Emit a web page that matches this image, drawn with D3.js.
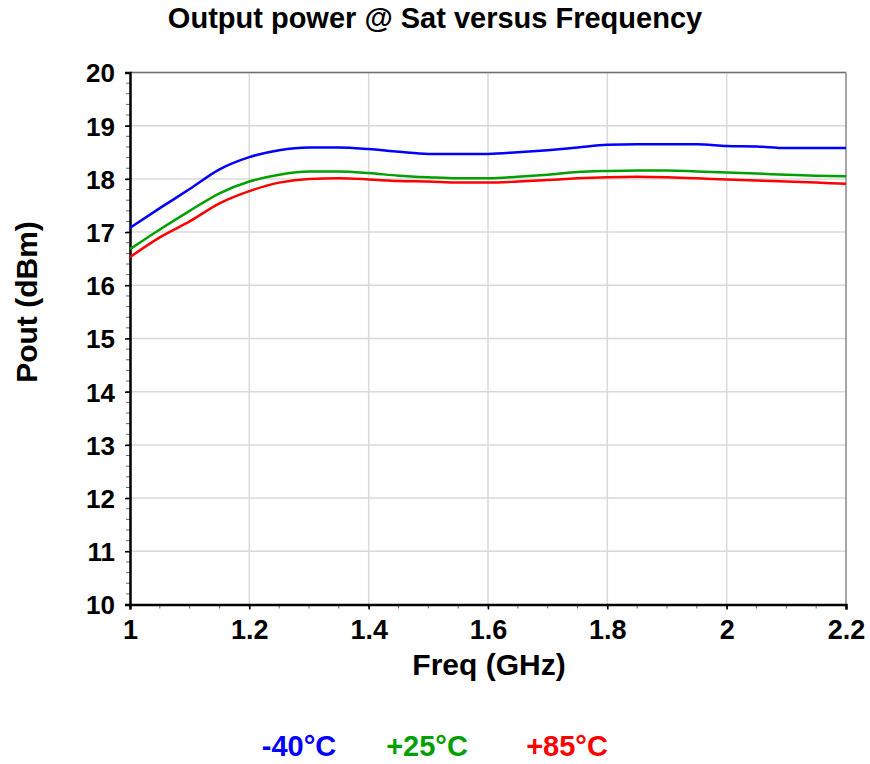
<!DOCTYPE html>
<html><head><meta charset="utf-8">
<script src="https://cdn.jsdelivr.net/npm/d3@7"></script>
<style>body{margin:0;background:#fff}svg{display:block;font-family:"Liberation Sans",Arial,sans-serif;font-weight:bold}</style>
</head><body>
<script>
const freqs = [1.0,1.05,1.1,1.15,1.2,1.25,1.3,1.35,1.4,1.45,1.5,1.55,1.6,1.65,1.7,1.75,1.8,1.85,1.9,1.95,2.0,2.05,2.1,2.15,2.2];
const poutM40 = [17.08,17.45,17.81,18.18,18.41,18.54,18.59,18.59,18.56,18.51,18.47,18.47,18.47,18.50,18.54,18.59,18.64,18.65,18.65,18.65,18.62,18.61,18.58,18.58,18.58];
const poutP25 = [16.68,17.05,17.40,17.73,17.95,18.08,18.14,18.14,18.11,18.06,18.03,18.01,18.01,18.04,18.08,18.13,18.15,18.16,18.16,18.14,18.12,18.10,18.08,18.06,18.05];
const poutP85 = [16.53,16.90,17.20,17.54,17.77,17.93,18.00,18.01,17.99,17.96,17.95,17.93,17.93,17.95,17.98,18.01,18.03,18.04,18.03,18.01,17.99,17.97,17.95,17.93,17.91];
const seriesNames = ["-40°C","+25°C","+85°C"];
const seriesColors = ["#0000ff","#00a000","#ff0000"];
const xTicks = [1,1.2,1.4,1.6,1.8,2,2.2];
const yTicks = [10,11,12,13,14,15,16,17,18,19,20];

const W=870,H=764;
const m={l:130,r:846,t:72.5,b:604.5};
const svg=d3.select("body").append("svg").attr("width",W).attr("height",H);
const x=d3.scaleLinear().domain([1,2.2]).range([m.l,m.r]);
const y=d3.scaleLinear().domain([10,20]).range([m.b,m.t]);

// grid
const g=svg.append("g");
g.selectAll(".vg").data(xTicks.slice(1)).enter().append("line")
 .attr("x1",d=>x(d)).attr("x2",d=>x(d)).attr("y1",m.t).attr("y2",m.b)
 .attr("stroke","#d8d8d8").attr("stroke-width",1.5);
g.selectAll(".hg").data(yTicks.slice(1)).enter().append("line")
 .attr("y1",d=>y(d)).attr("y2",d=>y(d)).attr("x1",m.l).attr("x2",m.r)
 .attr("stroke","#d8d8d8").attr("stroke-width",1.5);
// top/right frame
svg.append("line").attr("x1",m.l).attr("x2",m.r).attr("y1",m.t).attr("y2",m.t).attr("stroke","#707070").attr("stroke-width",1.5);
svg.append("line").attr("x1",m.r).attr("x2",m.r).attr("y1",m.t).attr("y2",m.b).attr("stroke","#909090").attr("stroke-width",1.5);

// minor ticks
const yMinor=d3.range(10,20.001,0.2);
svg.selectAll(".ym").data(yMinor).enter().append("line")
 .attr("x1",m.l-4).attr("x2",m.l).attr("y1",d=>y(d)).attr("y2",d=>y(d)).attr("stroke","#666").attr("stroke-width",1);
const xMinor=d3.range(1,2.2001,0.05);
svg.selectAll(".xm").data(xMinor).enter().append("line")
 .attr("x1",d=>x(d)).attr("x2",d=>x(d)).attr("y1",m.b).attr("y2",m.b+4).attr("stroke","#666").attr("stroke-width",1);

// axes
const xAxis=d3.axisBottom(x).tickValues(xTicks).tickFormat(d3.format("")).tickSize(5).tickPadding(4);
const yAxis=d3.axisLeft(y).tickValues(yTicks).tickFormat(d3.format("")).tickSize(5).tickPadding(10);
const xa=svg.append("g").attr("transform",`translate(0,${m.b})`).call(xAxis);
const ya=svg.append("g").attr("transform",`translate(${m.l},0)`).call(yAxis);
[xa,ya].forEach(a=>{a.select(".domain").attr("stroke","#000").attr("stroke-width",2.5);
 a.selectAll(".tick line").attr("stroke","#000").attr("stroke-width",1.5);
 a.selectAll("text").attr("fill","#000").style("font-family","Liberation Sans, Arial, sans-serif").style("font-weight","bold");});
xa.selectAll("text").style("font-size","27px").attr("dy","0.95em");
ya.selectAll("text").style("font-size","26px").attr("dy","0.36em");

// lines
const series=[poutM40,poutP25,poutP85];
const line=d3.line().x((d,i)=>x(freqs[i])).y(d=>y(d)).curve(d3.curveMonotoneX);
svg.append("g").selectAll("path").data(series).enter().append("path")
 .attr("d",line).attr("fill","none").attr("stroke",(d,i)=>seriesColors[i]).attr("stroke-width",2.5);

// titles
svg.append("text").attr("x",435).attr("y",28).attr("text-anchor","middle").style("font-size","29px").text("Output power @ Sat versus Frequency");
svg.append("text").attr("x",489).attr("y",675).attr("text-anchor","middle").style("font-size","30px").text("Freq (GHz)");
svg.append("text").attr("transform","translate(37,302) rotate(-90)").attr("text-anchor","middle").style("font-size","30px").text("Pout (dBm)");

// legend
const lx=[299,427,567];
svg.selectAll(".lg").data(seriesNames).enter().append("text")
 .attr("x",(d,i)=>lx[i]).attr("y",756).attr("text-anchor","middle").style("font-size","29px")
 .attr("fill",(d,i)=>seriesColors[i]).text(d=>d);
</script>
</body></html>
